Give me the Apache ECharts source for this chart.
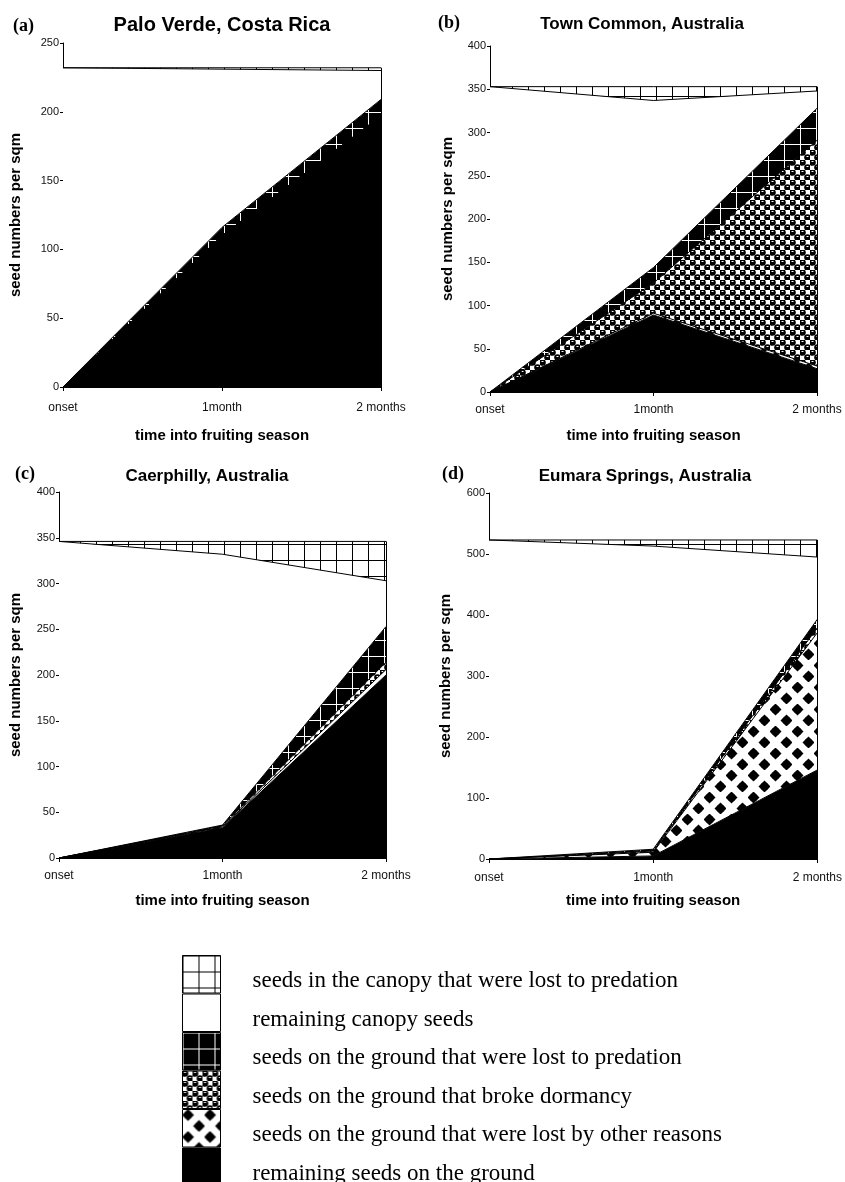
<!DOCTYPE html>
<html><head><meta charset="utf-8">
<script src="https://cdn.jsdelivr.net/npm/echarts@6/dist/echarts.min.js"></script>
<style>html,body{margin:0;padding:0;background:#fff}#c{width:845px;height:1182px}</style>
</head><body><div id="c"></div>
<script>
// ---------- data ----------
const categories = ['onset', '1month', '2 months'];
// stack order: bottom -> top
const seriesNames = [
  'remaining seeds on the ground',
  'seeds on the ground that were lost by other reasons',
  'seeds on the ground that broke dormancy',
  'seeds on the ground that were lost to predation',
  'remaining canopy seeds',
  'seeds in the canopy that were lost to predation'
];
const legendOrder = [
  'seeds in the canopy that were lost to predation',
  'remaining canopy seeds',
  'seeds on the ground that were lost to predation',
  'seeds on the ground that broke dormancy',
  'seeds on the ground that were lost by other reasons',
  'remaining seeds on the ground'
];
const panelTitles = ['Palo Verde, Costa Rica', 'Town Common, Australia', 'Caerphilly, Australia', 'Eumara Springs, Australia'];
const panelLetters = ['(a)', '(b)', '(c)', '(d)'];
const yMax = [250, 400, 400, 600];
const yInterval = [50, 50, 50, 100];
const yAxisName = 'seed numbers per sqm';
const xAxisName = 'time into fruiting season';

// (a) Palo Verde
const a_remainingGround = [0, 110, 197];
const a_lostOther = [0, 0, 0];
const a_brokeDormancy = [0, 0, 0];
const a_groundPredation = [0, 6, 12];
const a_remainingCanopy = [232, 115, 21];
const a_canopyPredation = [0, 1, 2];
// (b) Town Common
const b_remainingGround = [0, 89, 27];
const b_lostOther = [0, 2, 3];
const b_brokeDormancy = [0, 35, 261];
const b_groundPredation = [0, 18, 37];
const b_remainingCanopy = [353, 193, 20];
const b_canopyPredation = [0, 16, 5];
// (c) Caerphilly
const c_remainingGround = [0, 33, 200];
const c_lostOther = [0, 1, 6];
const c_brokeDormancy = [0, 1, 8];
const c_groundPredation = [0, 1, 39];
const c_remainingCanopy = [346, 296, 50];
const c_canopyPredation = [0, 14, 43];
// (d) Eumara Springs
const d_remainingGround = [0, 5, 146];
const d_lostOther = [0, 6, 225];
const d_brokeDormancy = [0, 2, 8];
const d_groundPredation = [0, 3, 14];
const d_remainingCanopy = [523, 497, 102];
const d_canopyPredation = [0, 10, 28];

const panelData = [
  [a_remainingGround, a_lostOther, a_brokeDormancy, a_groundPredation, a_remainingCanopy, a_canopyPredation],
  [b_remainingGround, b_lostOther, b_brokeDormancy, b_groundPredation, b_remainingCanopy, b_canopyPredation],
  [c_remainingGround, c_lostOther, c_brokeDormancy, c_groundPredation, c_remainingCanopy, c_canopyPredation],
  [d_remainingGround, d_lostOther, d_brokeDormancy, d_groundPredation, d_remainingCanopy, d_canopyPredation]
];

// ---------- patterns ----------
function makePattern(w, h, draw) {
  const cv = document.createElement('canvas');
  cv.width = w; cv.height = h;
  const ctx = cv.getContext('2d');
  draw(ctx, w, h);
  return { image: cv, repeat: 'repeat' };
}
const patCanopyPred = makePattern(16, 16, (x, w, h) => {
  x.fillStyle = '#fff'; x.fillRect(0, 0, w, h);
  x.fillStyle = '#000'; x.fillRect(0, 0, w, 1); x.fillRect(0, 0, 1, h);
});
const patGroundPred = makePattern(16, 16, (x, w, h) => {
  x.fillStyle = '#000'; x.fillRect(0, 0, w, h);
  x.fillStyle = '#fff'; x.fillRect(0, 0, w, 1); x.fillRect(0, 0, 1, h);
});
const patDormancy = makePattern(10, 10, (x, w, h) => {
  x.fillStyle = '#fff'; x.fillRect(0, 0, w, h);
  [[2.5, 2.5], [7.5, 7.5]].forEach(([cx, cy]) => {
    x.fillStyle = '#000'; x.beginPath(); x.arc(cx, cy, 3.3, 0, Math.PI * 2); x.fill();
    x.fillStyle = '#fff'; x.fillRect(cx - 1, cy - 1.5, 2, 1);
  });
});
const patOther = makePattern(22, 22, (x, w, h) => {
  x.fillStyle = '#fff'; x.fillRect(0, 0, w, h);
  x.fillStyle = '#000';
  [[5.5, 5.5], [16.5, 16.5]].forEach(([cx, cy]) => {
    const r = 6;
    x.beginPath(); x.moveTo(cx, cy - r); x.lineTo(cx + r, cy); x.lineTo(cx, cy + r); x.lineTo(cx - r, cy); x.closePath(); x.fill();
    x.beginPath(); x.arc(cx, cy, 4, 0, Math.PI * 2); x.fill();
  });
});
const fills = {
  'remaining seeds on the ground': '#000',
  'seeds on the ground that were lost by other reasons': patOther,
  'seeds on the ground that broke dormancy': patDormancy,
  'seeds on the ground that were lost to predation': patGroundPred,
  'remaining canopy seeds': '#fff',
  'seeds in the canopy that were lost to predation': patCanopyPred
};

// ---------- layout ----------
const grids = [
  { left: 63, top: 43, width: 318, height: 344 },
  { left: 490, top: 46, width: 327, height: 346 },
  { left: 59, top: 492, width: 327, height: 366 },
  { left: 489, top: 493, width: 329, height: 366 }
];
const yNameGap = [40, 35, 36, 36];
const xNameGap = [41, 36, 35, 34];
const xLabelMargin = [15, 12, 12, 13];
const titlePos = [
  { cx: 222, top: 15, size: 20 },
  { cx: 642, top: 16, size: 17 },
  { cx: 207, top: 468, size: 17 },
  { cx: 645, top: 468, size: 17 }
];
const letterPos = [
  { left: 13, top: 17 }, { left: 438, top: 14 }, { left: 15, top: 465 }, { left: 442, top: 465 }
];

const SANS = 'Liberation Sans, Arial, sans-serif';
const SERIF = 'Liberation Serif, Times New Roman, serif';

const title = [];
panelTitles.forEach((t, i) => {
  title.push({ text: t, left: titlePos[i].cx, top: titlePos[i].top, textAlign: 'center', padding: 0,
    textStyle: { fontFamily: SANS, fontWeight: 'bold', fontSize: titlePos[i].size, color: '#000' } });
  title.push({ text: panelLetters[i], left: letterPos[i].left, top: letterPos[i].top, padding: 0,
    textStyle: { fontFamily: SERIF, fontWeight: 'bold', fontSize: 18, color: '#000' } });
});

const xAxis = grids.map((g, i) => ({
  type: 'category', gridIndex: i, data: categories, boundaryGap: false,
  name: xAxisName, nameLocation: 'middle', nameGap: xNameGap[i],
  nameTextStyle: { fontFamily: SANS, fontWeight: 'bold', fontSize: 15, color: '#000' },
  axisLine: { lineStyle: { color: '#000', width: 1 } },
  axisTick: { show: true, length: 4, lineStyle: { color: '#000' } },
  axisLabel: { fontFamily: SANS, fontSize: 12, color: '#111', margin: xLabelMargin[i] },
  splitLine: { show: false }
}));
const yAxis = grids.map((g, i) => ({
  type: 'value', gridIndex: i, min: 0, max: yMax[i], interval: yInterval[i],
  name: yAxisName, nameLocation: 'middle', nameGap: yNameGap[i], nameRotate: 90,
  nameTextStyle: { fontFamily: SANS, fontWeight: 'bold', fontSize: 15, color: '#000' },
  axisLine: { show: true, lineStyle: { color: '#000', width: 1 } },
  axisTick: { show: true, length: 3, lineStyle: { color: '#000' } },
  axisLabel: { fontFamily: SANS, fontSize: 11, color: '#111', margin: 4 },
  splitLine: { show: false }
}));

const series = [];
panelData.forEach((arrs, p) => {
  arrs.forEach((vals, s) => {
    const isTop = s === arrs.length - 1;
    const total = arrs.reduce((acc, a) => acc + a[2], 0);
    const ser = {
      type: 'line', name: seriesNames[s], xAxisIndex: p, yAxisIndex: p,
      stack: 'panel' + p, data: vals, symbol: 'none', smooth: false,
      color: '#000',
      lineStyle: { color: '#000', width: 1 },
      areaStyle: { color: fills[seriesNames[s]], opacity: 1 },
      emphasis: { disabled: true }, silent: true, animation: false
    };
    if (isTop) {
      ser.markLine = {
        silent: true, symbol: 'none', label: { show: false },
        lineStyle: { color: '#000', width: 1, type: 'solid' },
        data: [[{ coord: [categories[2], 0] }, { coord: [categories[2], total] }]]
      };
    }
    series.push(ser);
  });
});

const option = {
  backgroundColor: '#fff',
  animation: false,
  title,
  grid: grids,
  xAxis, yAxis, series,
  legend: {
    orient: 'vertical', left: 182, top: 955, itemWidth: 38, itemHeight: 37.5, itemGap: 0,
    padding: 0, height: 260,
    icon: 'rect', selectedMode: false,
    data: legendOrder.map(n => ({ name: n, itemStyle: { color: fills[n], borderColor: '#000', borderWidth: 1 } })),
    formatter: name => '{t|' + name + '}',
    textStyle: {
      fontFamily: SERIF, fontSize: 23, color: '#000',
      rich: { t: { fontFamily: SERIF, fontSize: 23, color: '#000', lineHeight: 23, padding: [14, 0, 0, 27] } }
    }
  }
};
const chart = echarts.init(document.getElementById('c'), null, { renderer: 'canvas' });
chart.setOption(option);
</script></body></html>
